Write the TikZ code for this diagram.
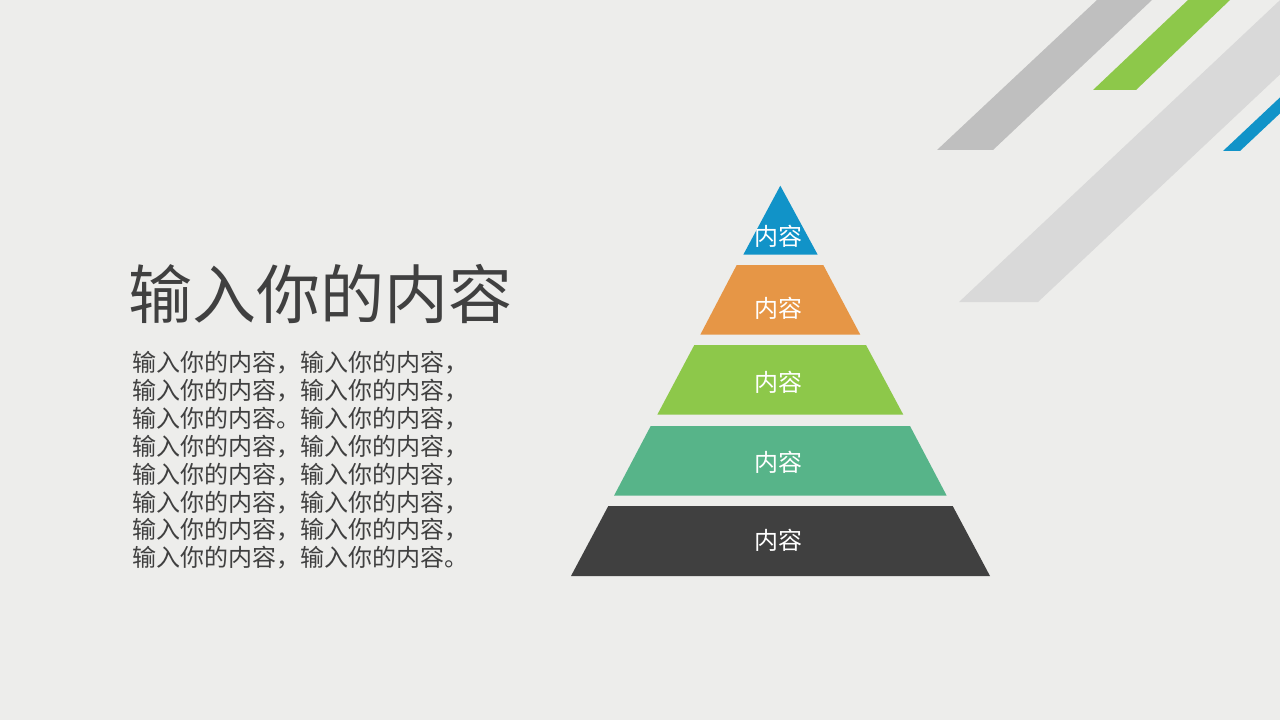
\documentclass[tikz,border=0pt]{standalone}
\usepackage{fontspec}
\setmainfont{Noto Sans CJK SC}
\definecolor{bg}{HTML}{EDEDEB}
\definecolor{txt}{HTML}{404040}
\definecolor{sgray}{HTML}{BFBFBF}
\definecolor{slight}{HTML}{D9D9D9}
\definecolor{tblue}{HTML}{1193C8}
\definecolor{torange}{HTML}{E69646}
\definecolor{tgreen}{HTML}{8DC84A}
\definecolor{tteal}{HTML}{57B489}
\definecolor{tdark}{HTML}{404040}
\tikzset{
  tierlabel/.style={text=white,font=\fontsize{18}{20}\selectfont,inner sep=0pt},
  bodyline/.style={text=txt,font=\fontsize{18}{21}\selectfont,inner sep=0pt,anchor=west},
}
\begin{document}
\begin{tikzpicture}[x=0.75pt,y=-0.75pt]
\useasboundingbox (0,0) rectangle (1280,720);
\fill[bg] (0,0) rectangle (1280,720);
\begin{scope}
\clip (0,0) rectangle (1280,720);
\fill[sgray] (937,150) -- (993,150) -- (1152,0) -- (1097,0) -- cycle;
\fill[tgreen] (1093,90) -- (1136,90) -- (1230,0) -- (1188,0) -- cycle;
\fill[slight] (959,302) -- (1038,302) -- (1038+420,302-395) -- (959+420,302-395) -- cycle;
\fill[tblue] (1223,151) -- (1240,151) -- (1240+200,151-188) -- (1223+200,151-188) -- cycle;
\end{scope}
% pyramid
\fill[tblue] (780.3,185.7) -- (817.7,254.7) -- (743.3,254.7) -- cycle;
\fill[torange] (736.7,265) -- (823.3,265) -- (860.3,334.7) -- (700.3,334.7) -- cycle;
\fill[tgreen] (694.3,345) -- (866,345) -- (903.3,414.7) -- (657.3,414.7) -- cycle;
\fill[tteal] (650.7,426) -- (910,426) -- (946.7,495.7) -- (614,495.7) -- cycle;
\fill[tdark] (608.3,506) -- (952.7,506) -- (990,576) -- (571,576) -- cycle;
\node[tierlabel] (l1) at (778,236.5) {内容};
\node[tierlabel] (l2) at (778,308) {内容};
\node[tierlabel] (l3) at (778,382) {内容};
\node[tierlabel] (l4) at (778,462) {内容};
\node[tierlabel] (l5) at (778,540) {内容};
% title
\node[text=txt,font=\fontsize{48}{50}\selectfont,inner sep=0pt,anchor=west] (title) at (128,294) {输入你的内容};
% body
\node[bodyline] (b1) at (132,363.0) {输入你的内容，输入你的内容，};
\node[bodyline] (b2) at (132,390.9) {输入你的内容，输入你的内容，};
\node[bodyline] (b3) at (132,418.7) {输入你的内容。输入你的内容，};
\node[bodyline] (b4) at (132,446.6) {输入你的内容，输入你的内容，};
\node[bodyline] (b5) at (132,474.4) {输入你的内容，输入你的内容，};
\node[bodyline] (b6) at (132,502.3) {输入你的内容，输入你的内容，};
\node[bodyline] (b7) at (132,530.1) {输入你的内容，输入你的内容，};
\node[bodyline] (b8) at (132,558.0) {输入你的内容，输入你的内容。};
\end{tikzpicture}
\end{document}
